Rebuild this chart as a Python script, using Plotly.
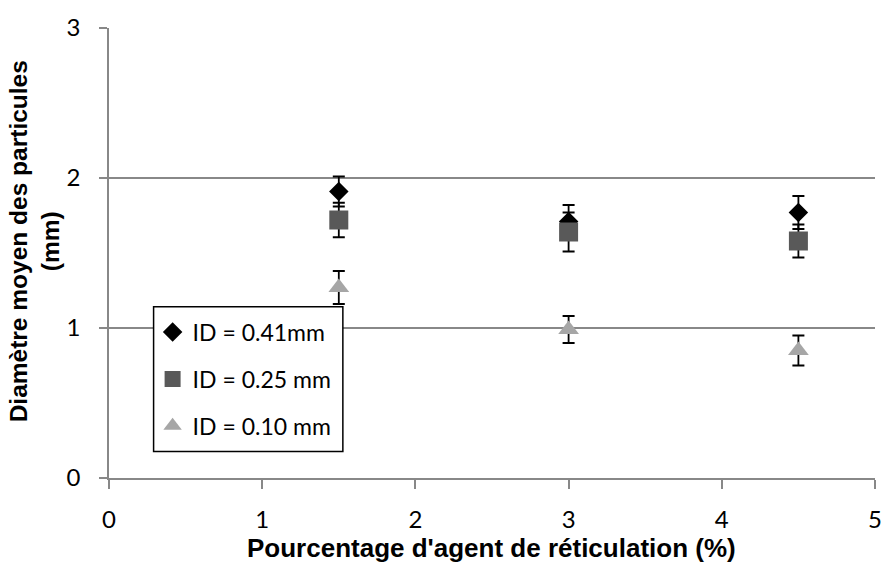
import plotly.graph_objects as go

# Crosslinker percentage (%)
agent_pct = [1.5, 3.0, 4.5]

# Mean particle diameter (mm) and error for each needle inner diameter
d_041 = [1.91, 1.71, 1.77]
e_041 = [0.10, 0.11, 0.11]
d_025 = [1.72, 1.64, 1.58]
e_025 = [0.115, 0.13, 0.11]
d_010 = [1.27, 0.99, 0.85]
e_010 = [0.11, 0.09, 0.10]

series_names = ["ID = 0.41mm", "ID = 0.25 mm", "ID = 0.10 mm"]

W, H = 894, 569
L, R, T, B = 109, 12, 21, 91
pw, ph = W - L - R, H - T - B


def px_x(p):
    return (p - L) / pw


def px_y(p):
    return (H - B - p) / ph


fig = go.Figure()

styles = [
    (d_041, e_041, "diamond", 15, "#000000"),
    (d_025, e_025, "square", 19, "#595959"),
    (d_010, e_010, "triangle-up", 18, "#a6a6a6"),
]

for i, (name, (yv, ev, sym, sz, col)) in enumerate(zip(series_names, styles)):
    fig.add_trace(go.Scatter(
        x=agent_pct, y=yv, name=name, mode="markers",
        legendgroup=f"g{i}",
        marker=dict(symbol=sym, size=sz, color=col, line=dict(width=0)),
        error_y=dict(type="data", array=ev, visible=True,
                     color="#000000", thickness=1.8, width=6),
    ))

axis_col = "#888888"
fig.update_xaxes(
    range=[0, 5], tickvals=[0, 1, 2, 3, 4, 5], showgrid=False, zeroline=False,
    showline=True, linecolor=axis_col, linewidth=1.5,
    ticks="outside", ticklen=9, tickcolor=axis_col, tickwidth=1.5,
    ticklabelstandoff=10,
    tickfont=dict(family="Lato", size=24, color="#000000"),
)
fig.update_yaxes(
    range=[0, 3], tickvals=[0, 1, 2, 3], showgrid=True, gridcolor=axis_col,
    gridwidth=1.5, zeroline=False,
    showline=True, linecolor=axis_col, linewidth=1.5,
    ticks="outside", ticklen=8, tickcolor=axis_col, tickwidth=1.5,
    ticklabelstandoff=14,
    tickfont=dict(family="Lato", size=24, color="#000000"),
)

# Legend frame
fig.add_shape(type="rect", xref="paper", yref="paper",
              x0=px_x(154), x1=px_x(345), y0=px_y(451), y1=px_y(304),
              line=dict(color="#000000", width=1.5), fillcolor="#ffffff",
              layer="above")

fig.add_annotation(
    text="<b>Pourcentage d'agent de réticulation (%)</b>",
    xref="paper", yref="paper", x=px_x(495), y=px_y(549),
    xanchor="center", yanchor="middle", showarrow=False,
    font=dict(family="Liberation Sans", size=26, color="#000000"),
)
fig.add_annotation(
    text="<b>Diamètre moyen des particules<br>(mm)</b>",
    xref="paper", yref="paper", x=px_x(34), y=px_y(238),
    xanchor="center", yanchor="middle", showarrow=False, textangle=-90,
    font=dict(family="Liberation Sans", size=24.5, color="#000000"),
)

fig.update_layout(
    width=W, height=H,
    margin=dict(l=L, r=R, t=T, b=B, pad=0),
    paper_bgcolor="#ffffff", plot_bgcolor="#ffffff",
    showlegend=True,
    legend=dict(
        x=px_x(153), y=px_y(308), xanchor="left", yanchor="top",
        bgcolor="rgba(0,0,0,0)", borderwidth=0,
        traceorder="grouped", tracegroupgap=14,
        font=dict(family="Lato", size=23, color="#000000"),
    ),
)

fig.write_html("out.html")
